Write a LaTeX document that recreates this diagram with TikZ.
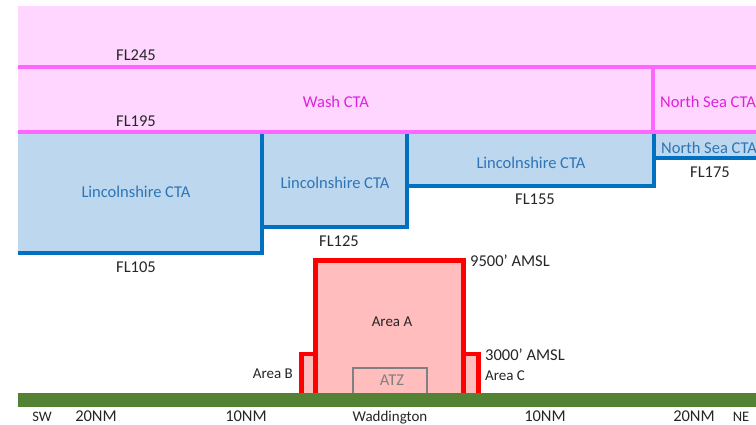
\documentclass[tikz,border=0pt]{standalone}
\usepackage{fontspec}
\setmainfont{Carlito}
\definecolor{pinkfill}{HTML}{FFD6FF}
\definecolor{magline}{HTML}{FF66FF}
\definecolor{magtext}{HTML}{DD22DD}
\definecolor{bluefill}{HTML}{BDD7EE}
\definecolor{blueline}{HTML}{0070C0}
\definecolor{bluetext}{HTML}{2E75B6}
\definecolor{redfill}{HTML}{FFBDBD}
\definecolor{redline}{HTML}{FF0000}
\definecolor{ground}{HTML}{548235}
\definecolor{atzgray}{HTML}{808080}
\definecolor{txt}{HTML}{262626}
\tikzset{
  big/.style={inner sep=0pt, text=txt, font=\fontsize{16.5}{19}\selectfont},
  small/.style={inner sep=0pt, text=txt, font=\fontsize{15}{18}\selectfont},
  tiny/.style={inner sep=0pt, text=txt, font=\fontsize{14.5}{17}\selectfont},
  magl/.style={big, text=magtext},
  bluel/.style={big, text=bluetext},
  magedge/.style={draw=magline, line width=4pt},
  blueedge/.style={draw=blueline, line width=4.5pt},
  rededge/.style={draw=redline, line width=4.5pt},
}
\begin{document}
\begin{tikzpicture}[x=1pt,y=-1pt]
\useasboundingbox (0,0) rectangle (756,425);
\fill[white] (0,0) rectangle (756,425);
% pink airspace
\fill[pinkfill] (18,6) rectangle (756,133);
% blue boxes
\fill[bluefill] (18,133) rectangle (262,253);
\fill[bluefill] (262,133) rectangle (407,227);
\fill[bluefill] (407,133) rectangle (654,186);
\fill[bluefill] (654,133) rectangle (756,158);
\draw[blueedge] (18,253) -| (262,133);
\draw[blueedge] (262,227) -| (407,133);
\draw[blueedge] (407,186) -| (654,133);
\draw[blueedge] (654,158) -- (756,158);
% magenta lines
\draw[magedge] (18,67) -- (756,67);
\draw[magedge] (18,132) -- (756,132);
\draw[magedge] (653,67) -- (653,132);
% ground
\fill[ground] (18,393) rectangle (756,407);
% red areas
\fill[redfill] (301,354) rectangle (479,393);
\fill[redfill] (315,260) rectangle (464,393);
\draw[atzgray, line width=2pt] (353,393) |- (427,368) -- (427,393);
\draw[rededge] (301.5,393) |- (315.5,354);
\draw[rededge] (315.5,393) |- (463.5,260.5) -- (463.5,393);
\draw[rededge] (463.5,354) -| (478.5,393);
% labels
\node[big] (fl245) at (136,55.5) {FL245};
\node[magl] (wash) at (336,101.5) {Wash CTA};
\node[big] (fl195) at (136,121) {FL195};
\node[magl, anchor=west] (nsea1) at (660,101.5) {North Sea CTA};
\node[bluel] (lin1) at (136,191.5) {Lincolnshire CTA};
\node[bluel] (lin2) at (335,182.5) {Lincolnshire CTA};
\node[bluel] (lin3) at (531,162.5) {Lincolnshire CTA};
\node[bluel, anchor=west] (nsea2) at (661,147.5) {North Sea CTA};
\node[big] (fl175) at (710,172.5) {FL175};
\node[big] (fl155) at (535,199) {FL155};
\node[big] (fl125) at (339,241) {FL125};
\node[big] (fl105) at (136,267) {FL105};
\node[big, anchor=west] (amsl95) at (470,261) {9500’ AMSL};
\node[big, anchor=west] (amsl30) at (485,355) {3000’ AMSL};
\node[small] (areaA) at (392,322) {Area A};
\node[small, anchor=east] (areaB) at (293,374) {Area B};
\node[small, anchor=west] (areaC) at (485,376) {Area C};
\node[big, text=atzgray] (atz) at (392,380) {ATZ};
\node[tiny] (sw) at (42,416.5) {SW};
\node[big] (nm20l) at (96,416.5) {20NM};
\node[big] (nm10l) at (246,416.5) {10NM};
\node[small, anchor=base] (wad) at (390,421.5) {Waddington};
\node[big] (nm10r) at (545,416.5) {10NM};
\node[big] (nm20r) at (694,416.5) {20NM};
\node[tiny] (ne) at (741,416.5) {NE};
\end{tikzpicture}
\end{document}
